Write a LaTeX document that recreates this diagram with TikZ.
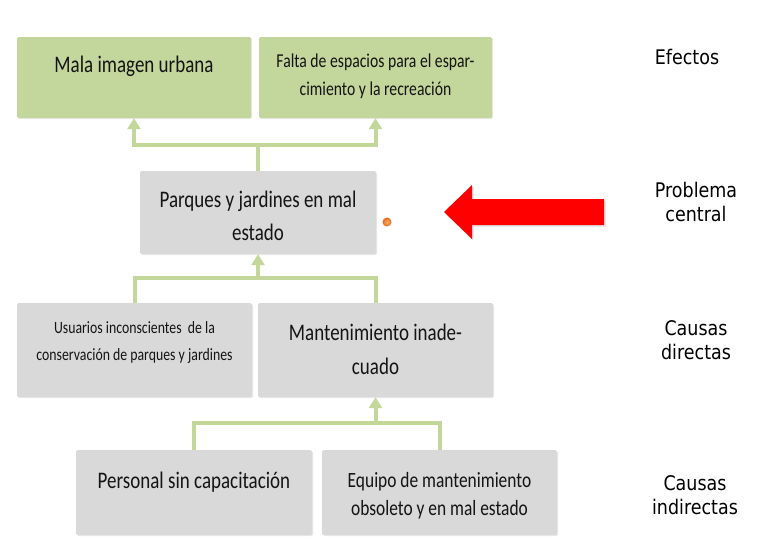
\documentclass[tikz,border=0pt]{standalone}
\usepackage{fontspec}
\usepackage{graphicx}
\setmainfont{Carlito}
\newfontfamily\labfont{DejaVu Sans}
\usetikzlibrary{arrows.meta,shadows,calc}
\definecolor{gfill}{RGB}{195,214,155}
\definecolor{gline}{RGB}{196,215,155}
\definecolor{bfill}{RGB}{217,217,217}
\definecolor{txt}{RGB}{20,20,20}
\definecolor{dotin}{RGB}{250,175,100}
\definecolor{dotout}{RGB}{228,105,35}
\newcommand\vst[2][1.25]{\scalebox{1}[#1]{\begin{tabular}{@{}c@{}}#2\end{tabular}}}
\begin{document}
\begin{tikzpicture}[x=1pt,y=-1pt,
  basebox/.style={draw=none, rounded corners=1.5pt, inner sep=0pt,
    drop shadow={opacity=0.18, shadow xshift=1pt, shadow yshift=-1pt}},
  gbox/.style={basebox, fill=gfill},
  bbox/.style={basebox, fill=bfill},
  btext/.style={align=center, text=txt, inner sep=0pt},
  lab/.style={align=center, text=black, inner sep=0pt, font=\labfont\fontsize{17.5}{20.9}\selectfont},
  gl/.style={draw=gline, line width=4pt},
  ga/.style={gl, -{Triangle[width=13pt,length=11pt]}}]
\useasboundingbox (0,0) rectangle (768,536);
\fill[white] (0,0) rectangle (768,536);

% boxes
\node[gbox, minimum width=234, minimum height=81] (mala) at (134,77.5) {};
\node[gbox, minimum width=233, minimum height=81] (falta) at (375.5,77.5) {};
\node[bbox, minimum width=236, minimum height=83] (parques) at (258,212.5) {};
\node[bbox, minimum width=235, minimum height=94] (usuarios) at (134.5,350) {};
\node[bbox, minimum width=235, minimum height=94] (mant) at (375.5,350) {};
\node[bbox, minimum width=236, minimum height=85] (personal) at (194,492.5) {};
\node[bbox, minimum width=235, minimum height=85] (equipo) at (439.5,492.5) {};

% texts
\node[btext, font=\fontsize{19}{26.4}\selectfont] (tmala) at (134,66) {\vst{Mala imagen urbana}};
\node[btext, font=\fontsize{15.7}{22.4}\selectfont] (tfalta) at (375.5,75.5) {\vst{Falta de espacios para el espar-\\cimiento y la recreación}};
\node[btext, font=\fontsize{19}{26.4}\selectfont] (tparques) at (258,217.5) {\vst{Parques y jardines en mal\\estado}};
\node[btext, font=\fontsize{13.8}{21.6}\selectfont] (tusuarios) at (134.5,342) {\vst{Usuarios inconscientes\ \ de la\\conservación de parques y jardines}};
\node[btext, font=\fontsize{19}{27.2}\selectfont] (tmant) at (375.5,350.5) {\vst{Mantenimiento inade-\\cuado}};
\node[btext, font=\fontsize{19}{26.4}\selectfont] (tpersonal) at (194,482) {\vst{Personal sin capacitación}};
\node[btext, font=\fontsize{17.4}{22.4}\selectfont] (tequipo) at (439.5,496) {\vst{Equipo de mantenimiento\\obsoleto y en mal estado}};

% right labels
\node[lab] (lefectos) at (687,60) {\vst[1.15]{Efectos}};
\node[lab] (lproblema) at (696,205) {\vst[1.15]{Problema\\central}};
\node[lab] (ldirectas) at (696,342.5) {\vst[1.15]{Causas\\directas}};
\node[lab] (lindirectas) at (695,497.5) {\vst[1.15]{Causas\\indirectas}};

% connectors
\coordinate (j1) at (258,145);
\draw[gl] (parques.north) -- (j1);
\draw[ga] (j1) -| (mala.south);
\draw[ga] (j1) -| (falta.south);

\coordinate (j2) at (258,278);
\draw[gl] (usuarios.north) |- (j2) -| (mant.north);
\draw[ga] (j2) -- (parques.south);

\coordinate (j3) at (375.5,423);
\draw[gl] (personal.north) |- (j3) -| (equipo.north);
\draw[ga] (j3) -- (mant.south);

% orange dot
\shade[inner color=dotin, outer color=dotout] (387,222) circle (4.5);

% red arrow
\fill[red, drop shadow={opacity=0.25, shadow xshift=1.5pt, shadow yshift=-1.5pt}]
  (604,199) -- (472,199) -- (472,185) -- (444,212) -- (472,239) -- (472,225) -- (604,225) -- cycle;
\end{tikzpicture}
\end{document}
